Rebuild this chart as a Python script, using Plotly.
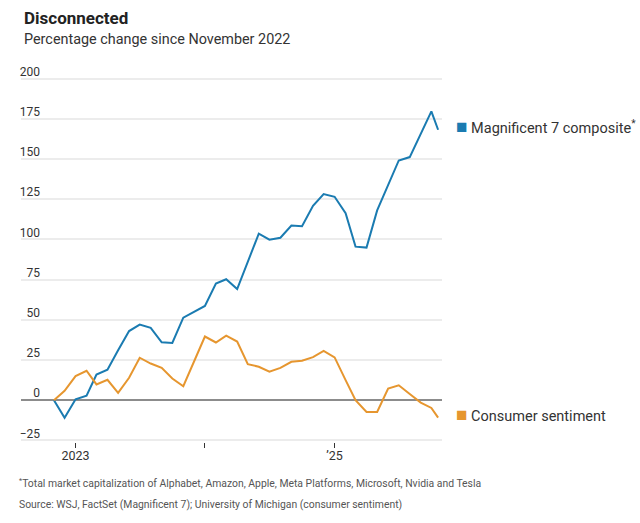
import plotly.graph_objects as go

dates = [
    "2022-11-01", "2022-12-01", "2023-01-01", "2023-02-01", "2023-03-01", "2023-04-01",
    "2023-05-01", "2023-06-01", "2023-07-01", "2023-08-01", "2023-09-01", "2023-10-01",
    "2023-11-01", "2023-12-01", "2024-01-01", "2024-02-01", "2024-03-01", "2024-04-01",
    "2024-05-01", "2024-06-01", "2024-07-01", "2024-08-01", "2024-09-01", "2024-10-01",
    "2024-11-01", "2024-12-01", "2025-01-01", "2025-02-01", "2025-03-01", "2025-04-01",
    "2025-05-01", "2025-06-01", "2025-07-01", "2025-08-01", "2025-09-01", "2025-10-01",
    "2025-10-20",
]

mag7 = [
    0, -11, 0.6, 2.8, 16, 19, 31, 43, 47, 45, 36, 35.6,
    51.3, 55, 58.6, 72.5, 75.2, 69.1, 86, 103.6, 99.8, 101, 108.6, 108.2,
    120.9, 128.2, 126.5, 116.3, 95.5, 94.9, 118, 134, 149.1, 151.2, 166.1, 179.6,
    168.2,
]

sentiment = [
    0, 5.8, 15, 18.3, 9.8, 12.7, 4.6, 13.9, 26.4, 22.8, 20.1, 13.5,
    8.7, 24.3, 39.6, 35.9, 40.2, 36.5, 22.4, 20.8, 17.7, 20.1, 23.9, 24.5,
    26.8, 30.7, 26.6, 12.5, 0, -7.3, -7.3, 7.3, 9.3, 3.9, -1.5, -4.8,
    -10.8,
]

y_ticks = [-25, 0, 25, 50, 75, 100, 125, 150, 175, 200]
x_tickvals = ["2023-01-01", "2024-01-01", "2025-01-01"]
x_ticktext = ["2023", "", "\u201925"]

series_names = ["Magnificent 7 composite<sup>*</sup>", "Consumer sentiment"]
colors = ["#1a7bb1", "#e6962f"]

footnote = "<sup>*</sup>Total market capitalization of Alphabet, Amazon, Apple, Meta Platforms, Microsoft, Nvidia and Tesla"
source = "Source: WSJ, FactSet (Magnificent 7); University of Michigan (consumer sentiment)"

FONT = "Roboto"

fig = go.Figure()
for vals, name, col in zip([mag7, sentiment], series_names, colors):
    fig.add_trace(go.Scatter(x=dates, y=vals, mode="lines", name=name,
                             line=dict(color=col, width=2), showlegend=False,
                             hoverinfo="skip"))
    fig.add_annotation(x=dates[-1], y=vals[-1], xref="x", yref="y",
                       text=f"<span style='color:{col};font-size:19px'>\u25A0</span> {name}",
                       showarrow=False, xanchor="left", yanchor="middle",
                       xshift=16, yshift=3,
                       font=dict(family=FONT, size=14.5, color="#333"))

fig.add_annotation(x=0, y=1, xref="paper", yref="paper", xanchor="left", yanchor="top",
                   xshift=1, yshift=71, showarrow=False,
                   text="<b>Disconnected</b>", font=dict(family=FONT, size=17, color="#222"))
fig.add_annotation(x=0, y=1, xref="paper", yref="paper", xanchor="left", yanchor="top",
                   xshift=1, yshift=48, showarrow=False,
                   text="Percentage change since November 2022",
                   font=dict(family=FONT, size=14.4, color="#333"))
fig.add_annotation(x=0, y=0, xref="paper", yref="paper", xanchor="left", yanchor="middle",
                   xshift=-4, yshift=-41, showarrow=False, align="left",
                   text=footnote, font=dict(family=FONT, size=10.4, color="#555"))
fig.add_annotation(x=0, y=0, xref="paper", yref="paper", xanchor="left", yanchor="middle",
                   xshift=-4, yshift=-62, showarrow=False, align="left",
                   text=source, font=dict(family=FONT, size=10.4, color="#555"))

fig.update_layout(
    width=640, height=523,
    template="none",
    paper_bgcolor="white", plot_bgcolor="white",
    margin=dict(l=21, r=198, t=77, b=81),
    font=dict(family=FONT, color="#333"),
    hovermode=False,
    xaxis=dict(type="date", range=["2022-07-31", "2025-10-31"],
               tickvals=x_tickvals, ticktext=x_ticktext,
               showgrid=False, zeroline=False, showline=False,
               ticks="outside", ticklen=5, tickcolor="#333", tickwidth=1,
               ticklabelstandoff=-3,
               tickfont=dict(family=FONT, size=12.5, color="#333")),
    yaxis=dict(range=[-26, 201], tickvals=y_ticks,
               showgrid=True, gridcolor="#ececec", gridwidth=1.5,
               zeroline=True, zerolinecolor="#8c8c8c", zerolinewidth=2,
               showline=False, ticks="", automargin=False,
               ticklabelstandoff=-20, ticklabelshift=-7,
               tickfont=dict(family=FONT, size=12, color="#333")),
)

fig.write_html("out.html", config={"displayModeBar": False},
               post_script="document.body.style.margin='0';")
